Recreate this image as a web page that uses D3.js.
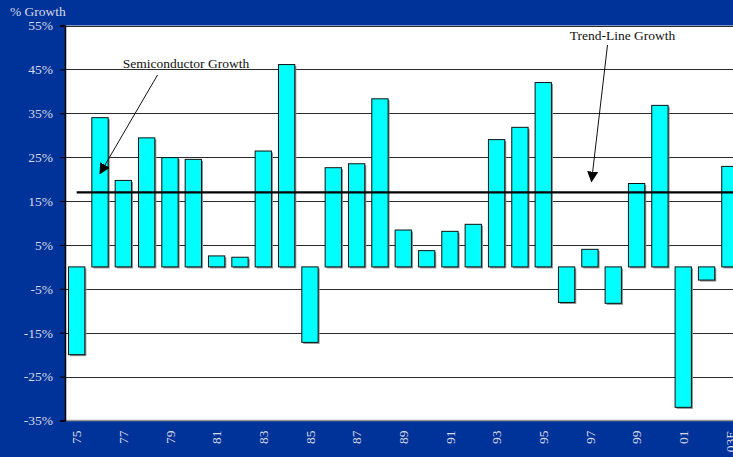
<!DOCTYPE html>
<html>
<head>
<meta charset="utf-8">
<script src="https://cdn.jsdelivr.net/npm/d3@7"></script>
<style>
  html, body { margin: 0; padding: 0; background: #003399; }
  svg { display: block; }
</style>
</head>
<body>
<svg id="chart" width="733" height="457"></svg>
<script>
// Annual semiconductor market growth, 1975 to 2003 (estimate)
const years = ["75","76","77","78","79","80","81","82","83","84","85","86","87","88","89",
               "90","91","92","93","94","95","96","97","98","99","00","01","02","03E"];
const growth = [-20, 34, 19.7, 29.4, 24.9, 24.5, 2.5, 2.2, 26.4, 46.1, -17.2, 22.6, 23.5, 38.3, 8.4,
                3.7, 8.1, 9.7, 29, 31.8, 42, -8.1, 4, -8.3, 19, 36.8, -32, -3, 22.9];
const trendGrowth = 17;
const yTicks = [-35, -25, -15, -5, 5, 15, 25, 35, 45, 55];
const yTickLabels = ["-35%", "-25%", "-15%", "-5%", "5%", "15%", "25%", "35%", "45%", "55%"];
const axisTitle = "% Growth";
const seriesLabel = "Semiconductor Growth";
const trendLabel = "Trend-Line Growth";

const W = 733, H = 457;
const plot = { left: 65, top: 25.5, bottom: 420.5 };
const step = 23.33;

const svg = d3.select("#chart");
const font = "'Liberation Serif', 'Times New Roman', serif";
const textColor = "#d9d9e6";

const x = d3.scaleBand()
  .domain(years)
  .range([plot.left, plot.left + step * years.length])
  .paddingInner(0.3)
  .paddingOuter(0.15);

const y = d3.scaleLinear().domain([-35, 55]).range([plot.bottom, plot.top]);

// plot background
svg.append("rect")
  .attr("x", plot.left).attr("y", plot.top)
  .attr("width", W - plot.left).attr("height", plot.bottom - plot.top)
  .attr("fill", "#ffffff");

// horizontal gridlines
svg.append("g").selectAll("line")
  .data(yTicks.slice(1))
  .join("line")
  .attr("x1", plot.left).attr("x2", W)
  .attr("y1", d => Math.round(y(d)) + 0.5).attr("y2", d => Math.round(y(d)) + 0.5)
  .attr("stroke", "#2a2a2a").attr("stroke-width", 1);

// bottom edge of plot
svg.append("line")
  .attr("x1", plot.left).attr("x2", W)
  .attr("y1", y(-35)).attr("y2", y(-35))
  .attr("stroke", "#9a9a9a").attr("stroke-width", 1.5);

// bar shadows
svg.append("g").selectAll("rect")
  .data(growth)
  .join("rect")
  .attr("x", (d, i) => x(years[i]) + 1.5)
  .attr("y", d => Math.min(y(d), y(0)) + 1.5)
  .attr("width", x.bandwidth())
  .attr("height", d => Math.abs(y(d) - y(0)))
  .attr("fill", "#8c8c8c");

// bars
svg.append("g").selectAll("rect")
  .data(growth)
  .join("rect")
  .attr("x", (d, i) => x(years[i]))
  .attr("y", d => Math.min(y(d), y(0)))
  .attr("width", x.bandwidth())
  .attr("height", d => Math.abs(y(d) - y(0)))
  .attr("fill", "#00ffff")
  .attr("stroke", "#111111")
  .attr("stroke-width", 1);

// trend line
svg.append("line")
  .attr("x1", x(years[0]) + x.bandwidth() / 2).attr("x2", W)
  .attr("y1", y(trendGrowth)).attr("y2", y(trendGrowth))
  .attr("stroke", "#000000").attr("stroke-width", 2.2);

// y axis
const yAxis = d3.axisLeft(y)
  .tickValues(yTicks)
  .tickFormat((d, i) => yTickLabels[i])
  .tickSize(5)
  .tickPadding(7);
const gy = svg.append("g").attr("transform", `translate(${plot.left},0)`).call(yAxis);
gy.select(".domain").attr("stroke", "#000000").attr("stroke-width", 1.5);
gy.selectAll(".tick line").attr("stroke", "#000000").attr("stroke-width", 1.2);
gy.selectAll(".tick text")
  .attr("fill", textColor).attr("font-family", font).attr("font-size", 13.5);

// x axis labels, every other year
const xAxis = d3.axisBottom(x)
  .tickValues(years.filter((d, i) => i % 2 === 0))
  .tickSize(0);
const gx = svg.append("g").attr("transform", `translate(0,${plot.bottom})`).call(xAxis);
gx.select(".domain").remove();
gx.selectAll(".tick text")
  .attr("fill", textColor).attr("font-family", font).attr("font-size", 13.5)
  .attr("transform", "rotate(-90)")
  .attr("text-anchor", "end")
  .attr("x", -10).attr("y", 0).attr("dy", "0.35em");

// axis title
svg.append("text")
  .attr("x", 10).attr("y", 15.5)
  .attr("fill", textColor).attr("font-family", font).attr("font-size", 13.5)
  .text(axisTitle);

// annotations
const defs = svg.append("defs");
defs.append("marker")
  .attr("id", "arrowHead")
  .attr("viewBox", "0 0 10 10")
  .attr("refX", 9).attr("refY", 5)
  .attr("markerWidth", 11).attr("markerHeight", 11)
  .attr("markerUnits", "userSpaceOnUse")
  .attr("orient", "auto")
  .append("path").attr("d", "M0,0 L10,5 L0,10 Z").attr("fill", "#000");

svg.append("text")
  .attr("x", 186).attr("y", 68)
  .attr("text-anchor", "middle")
  .attr("font-family", font).attr("font-size", 13.5).attr("fill", "#111")
  .text(seriesLabel);
svg.append("line")
  .attr("x1", 157.5).attr("y1", 75)
  .attr("x2", 100).attr("y2", 173.5)
  .attr("stroke", "#111").attr("stroke-width", 1)
  .attr("marker-end", "url(#arrowHead)");

svg.append("text")
  .attr("x", 622.5).attr("y", 40)
  .attr("text-anchor", "middle")
  .attr("font-family", font).attr("font-size", 13.5).attr("fill", "#111")
  .text(trendLabel);
svg.append("line")
  .attr("x1", 607.5).attr("y1", 45)
  .attr("x2", 591.5).attr("y2", 181.5)
  .attr("stroke", "#111").attr("stroke-width", 1)
  .attr("marker-end", "url(#arrowHead)");
</script>
</body>
</html>
